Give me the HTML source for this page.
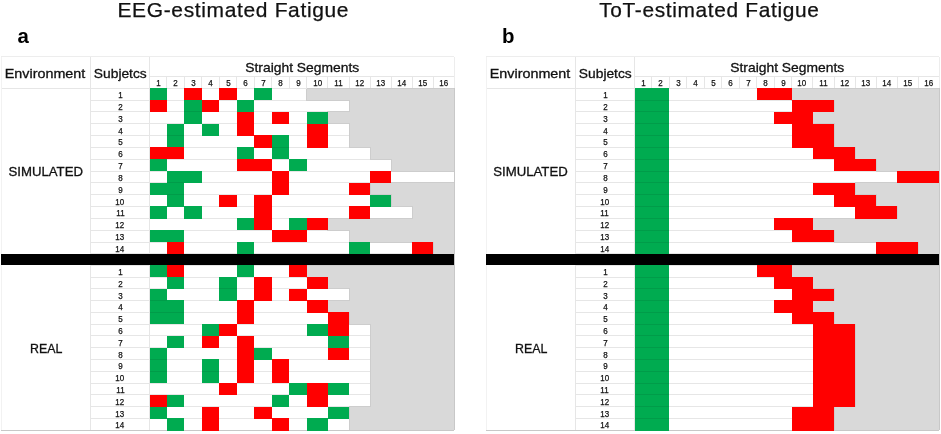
<!DOCTYPE html>
<html lang="en"><head><meta charset="utf-8"><title>EEG-estimated vs ToT-estimated Fatigue</title>
<style>
html,body{margin:0;padding:0;background:#fff;}
body{width:941px;height:434px;position:relative;overflow:hidden;font-family:"Liberation Sans",sans-serif;color:#111;}
.r{position:absolute;}
.t{position:absolute;text-align:center;white-space:nowrap;}
.h{color:#111;-webkit-text-stroke:0.3px #111;}
.n{color:#111;-webkit-text-stroke:0.25px #111;}
.ttl{color:#111;-webkit-text-stroke:0.25px #111;}
.ltr{font-weight:bold;color:#000;}
</style></head><body>
<div class="r" style="left:90.60px;top:87.70px;width:363.66px;height:1.00px;background:#e6e6e6;"></div>
<div class="r" style="left:90.60px;top:99.54px;width:363.66px;height:1.00px;background:#e6e6e6;"></div>
<div class="r" style="left:90.60px;top:111.38px;width:363.66px;height:1.00px;background:#e6e6e6;"></div>
<div class="r" style="left:90.60px;top:123.22px;width:363.66px;height:1.00px;background:#e6e6e6;"></div>
<div class="r" style="left:90.60px;top:135.06px;width:363.66px;height:1.00px;background:#e6e6e6;"></div>
<div class="r" style="left:90.60px;top:146.90px;width:363.66px;height:1.00px;background:#e6e6e6;"></div>
<div class="r" style="left:90.60px;top:158.74px;width:363.66px;height:1.00px;background:#e6e6e6;"></div>
<div class="r" style="left:90.60px;top:170.58px;width:363.66px;height:1.00px;background:#e6e6e6;"></div>
<div class="r" style="left:90.60px;top:182.42px;width:363.66px;height:1.00px;background:#e6e6e6;"></div>
<div class="r" style="left:90.60px;top:194.26px;width:363.66px;height:1.00px;background:#e6e6e6;"></div>
<div class="r" style="left:90.60px;top:206.10px;width:363.66px;height:1.00px;background:#e6e6e6;"></div>
<div class="r" style="left:90.60px;top:217.94px;width:363.66px;height:1.00px;background:#e6e6e6;"></div>
<div class="r" style="left:90.60px;top:229.78px;width:363.66px;height:1.00px;background:#e6e6e6;"></div>
<div class="r" style="left:90.60px;top:241.62px;width:363.66px;height:1.00px;background:#e6e6e6;"></div>
<div class="r" style="left:90.60px;top:253.46px;width:363.66px;height:1.00px;background:#e6e6e6;"></div>
<div class="r" style="left:90.60px;top:264.75px;width:363.66px;height:1.00px;background:#e6e6e6;"></div>
<div class="r" style="left:90.60px;top:276.54px;width:363.66px;height:1.00px;background:#e6e6e6;"></div>
<div class="r" style="left:90.60px;top:288.33px;width:363.66px;height:1.00px;background:#e6e6e6;"></div>
<div class="r" style="left:90.60px;top:300.12px;width:363.66px;height:1.00px;background:#e6e6e6;"></div>
<div class="r" style="left:90.60px;top:311.91px;width:363.66px;height:1.00px;background:#e6e6e6;"></div>
<div class="r" style="left:90.60px;top:323.70px;width:363.66px;height:1.00px;background:#e6e6e6;"></div>
<div class="r" style="left:90.60px;top:335.49px;width:363.66px;height:1.00px;background:#e6e6e6;"></div>
<div class="r" style="left:90.60px;top:347.28px;width:363.66px;height:1.00px;background:#e6e6e6;"></div>
<div class="r" style="left:90.60px;top:359.07px;width:363.66px;height:1.00px;background:#e6e6e6;"></div>
<div class="r" style="left:90.60px;top:370.86px;width:363.66px;height:1.00px;background:#e6e6e6;"></div>
<div class="r" style="left:90.60px;top:382.65px;width:363.66px;height:1.00px;background:#e6e6e6;"></div>
<div class="r" style="left:90.60px;top:394.44px;width:363.66px;height:1.00px;background:#e6e6e6;"></div>
<div class="r" style="left:90.60px;top:406.23px;width:363.66px;height:1.00px;background:#e6e6e6;"></div>
<div class="r" style="left:90.60px;top:418.02px;width:363.66px;height:1.00px;background:#e6e6e6;"></div>
<div class="r" style="left:90.60px;top:429.81px;width:363.66px;height:1.00px;background:#e6e6e6;"></div>
<div class="r" style="left:306.91px;top:88.00px;width:147.35px;height:12.34px;background:#d9d9d9;"></div>
<div class="r" style="left:349.01px;top:99.84px;width:105.25px;height:12.34px;background:#d9d9d9;"></div>
<div class="r" style="left:327.96px;top:111.68px;width:126.30px;height:12.34px;background:#d9d9d9;"></div>
<div class="r" style="left:349.01px;top:123.52px;width:105.25px;height:12.34px;background:#d9d9d9;"></div>
<div class="r" style="left:349.01px;top:135.36px;width:105.25px;height:12.34px;background:#d9d9d9;"></div>
<div class="r" style="left:370.06px;top:147.20px;width:84.20px;height:12.34px;background:#d9d9d9;"></div>
<div class="r" style="left:391.11px;top:159.04px;width:63.15px;height:12.34px;background:#d9d9d9;"></div>
<div class="r" style="left:370.06px;top:182.72px;width:84.20px;height:12.34px;background:#d9d9d9;"></div>
<div class="r" style="left:391.11px;top:194.56px;width:63.15px;height:12.34px;background:#d9d9d9;"></div>
<div class="r" style="left:412.16px;top:206.40px;width:42.10px;height:12.34px;background:#d9d9d9;"></div>
<div class="r" style="left:327.96px;top:218.24px;width:126.30px;height:12.34px;background:#d9d9d9;"></div>
<div class="r" style="left:349.01px;top:230.08px;width:105.25px;height:12.34px;background:#d9d9d9;"></div>
<div class="r" style="left:433.21px;top:241.92px;width:21.05px;height:12.34px;background:#d9d9d9;"></div>
<div class="r" style="left:306.91px;top:265.05px;width:147.35px;height:12.34px;background:#d9d9d9;"></div>
<div class="r" style="left:327.96px;top:276.84px;width:126.30px;height:12.34px;background:#d9d9d9;"></div>
<div class="r" style="left:349.01px;top:288.63px;width:105.25px;height:12.34px;background:#d9d9d9;"></div>
<div class="r" style="left:327.96px;top:300.42px;width:126.30px;height:12.34px;background:#d9d9d9;"></div>
<div class="r" style="left:349.01px;top:312.21px;width:105.25px;height:12.34px;background:#d9d9d9;"></div>
<div class="r" style="left:370.06px;top:324.00px;width:84.20px;height:12.34px;background:#d9d9d9;"></div>
<div class="r" style="left:370.06px;top:335.79px;width:84.20px;height:12.34px;background:#d9d9d9;"></div>
<div class="r" style="left:370.06px;top:347.58px;width:84.20px;height:12.34px;background:#d9d9d9;"></div>
<div class="r" style="left:370.06px;top:359.37px;width:84.20px;height:12.34px;background:#d9d9d9;"></div>
<div class="r" style="left:370.06px;top:371.16px;width:84.20px;height:12.34px;background:#d9d9d9;"></div>
<div class="r" style="left:370.06px;top:382.95px;width:84.20px;height:12.34px;background:#d9d9d9;"></div>
<div class="r" style="left:370.06px;top:394.74px;width:84.20px;height:12.34px;background:#d9d9d9;"></div>
<div class="r" style="left:349.01px;top:406.53px;width:105.25px;height:12.34px;background:#d9d9d9;"></div>
<div class="r" style="left:349.01px;top:418.32px;width:105.25px;height:12.34px;background:#d9d9d9;"></div>
<div class="r" style="left:306.41px;top:88.20px;width:1.00px;height:11.84px;background:#cdcdcd;"></div>
<div class="r" style="left:306.91px;top:87.70px;width:147.35px;height:1.00px;background:#cdcdcd;"></div>
<div class="r" style="left:306.41px;top:99.54px;width:43.10px;height:1.00px;background:#cdcdcd;"></div>
<div class="r" style="left:348.51px;top:100.04px;width:1.00px;height:11.84px;background:#cdcdcd;"></div>
<div class="r" style="left:327.46px;top:111.38px;width:22.05px;height:1.00px;background:#cdcdcd;"></div>
<div class="r" style="left:327.46px;top:111.88px;width:1.00px;height:11.84px;background:#cdcdcd;"></div>
<div class="r" style="left:327.46px;top:123.22px;width:22.05px;height:1.00px;background:#cdcdcd;"></div>
<div class="r" style="left:348.51px;top:123.72px;width:1.00px;height:11.84px;background:#cdcdcd;"></div>
<div class="r" style="left:348.51px;top:135.56px;width:1.00px;height:11.84px;background:#cdcdcd;"></div>
<div class="r" style="left:348.51px;top:146.90px;width:22.05px;height:1.00px;background:#cdcdcd;"></div>
<div class="r" style="left:369.56px;top:147.40px;width:1.00px;height:11.84px;background:#cdcdcd;"></div>
<div class="r" style="left:369.56px;top:158.74px;width:22.05px;height:1.00px;background:#cdcdcd;"></div>
<div class="r" style="left:390.61px;top:159.24px;width:1.00px;height:11.84px;background:#cdcdcd;"></div>
<div class="r" style="left:390.61px;top:170.58px;width:64.15px;height:1.00px;background:#cdcdcd;"></div>
<div class="r" style="left:369.56px;top:182.42px;width:85.20px;height:1.00px;background:#cdcdcd;"></div>
<div class="r" style="left:369.56px;top:182.92px;width:1.00px;height:11.84px;background:#cdcdcd;"></div>
<div class="r" style="left:369.56px;top:194.26px;width:22.05px;height:1.00px;background:#cdcdcd;"></div>
<div class="r" style="left:390.61px;top:194.76px;width:1.00px;height:11.84px;background:#cdcdcd;"></div>
<div class="r" style="left:390.61px;top:206.10px;width:22.05px;height:1.00px;background:#cdcdcd;"></div>
<div class="r" style="left:411.66px;top:206.60px;width:1.00px;height:11.84px;background:#cdcdcd;"></div>
<div class="r" style="left:327.46px;top:217.94px;width:85.20px;height:1.00px;background:#cdcdcd;"></div>
<div class="r" style="left:327.46px;top:218.44px;width:1.00px;height:11.84px;background:#cdcdcd;"></div>
<div class="r" style="left:327.46px;top:229.78px;width:22.05px;height:1.00px;background:#cdcdcd;"></div>
<div class="r" style="left:348.51px;top:230.28px;width:1.00px;height:11.84px;background:#cdcdcd;"></div>
<div class="r" style="left:348.51px;top:241.62px;width:85.20px;height:1.00px;background:#cdcdcd;"></div>
<div class="r" style="left:432.71px;top:242.12px;width:1.00px;height:11.84px;background:#cdcdcd;"></div>
<div class="r" style="left:306.41px;top:265.25px;width:1.00px;height:11.79px;background:#cdcdcd;"></div>
<div class="r" style="left:306.91px;top:264.75px;width:147.35px;height:1.00px;background:#cdcdcd;"></div>
<div class="r" style="left:306.41px;top:276.54px;width:22.05px;height:1.00px;background:#cdcdcd;"></div>
<div class="r" style="left:327.46px;top:277.04px;width:1.00px;height:11.79px;background:#cdcdcd;"></div>
<div class="r" style="left:327.46px;top:288.33px;width:22.05px;height:1.00px;background:#cdcdcd;"></div>
<div class="r" style="left:348.51px;top:288.83px;width:1.00px;height:11.79px;background:#cdcdcd;"></div>
<div class="r" style="left:327.46px;top:300.12px;width:22.05px;height:1.00px;background:#cdcdcd;"></div>
<div class="r" style="left:327.46px;top:300.62px;width:1.00px;height:11.79px;background:#cdcdcd;"></div>
<div class="r" style="left:327.46px;top:311.91px;width:22.05px;height:1.00px;background:#cdcdcd;"></div>
<div class="r" style="left:348.51px;top:312.41px;width:1.00px;height:11.79px;background:#cdcdcd;"></div>
<div class="r" style="left:348.51px;top:323.70px;width:22.05px;height:1.00px;background:#cdcdcd;"></div>
<div class="r" style="left:369.56px;top:324.20px;width:1.00px;height:11.79px;background:#cdcdcd;"></div>
<div class="r" style="left:369.56px;top:335.99px;width:1.00px;height:11.79px;background:#cdcdcd;"></div>
<div class="r" style="left:369.56px;top:347.78px;width:1.00px;height:11.79px;background:#cdcdcd;"></div>
<div class="r" style="left:369.56px;top:359.57px;width:1.00px;height:11.79px;background:#cdcdcd;"></div>
<div class="r" style="left:369.56px;top:371.36px;width:1.00px;height:11.79px;background:#cdcdcd;"></div>
<div class="r" style="left:369.56px;top:383.15px;width:1.00px;height:11.79px;background:#cdcdcd;"></div>
<div class="r" style="left:369.56px;top:394.94px;width:1.00px;height:11.79px;background:#cdcdcd;"></div>
<div class="r" style="left:348.51px;top:406.23px;width:22.05px;height:1.00px;background:#cdcdcd;"></div>
<div class="r" style="left:348.51px;top:406.73px;width:1.00px;height:11.79px;background:#cdcdcd;"></div>
<div class="r" style="left:348.51px;top:418.52px;width:1.00px;height:11.79px;background:#cdcdcd;"></div>
<div class="r" style="left:1.30px;top:56.10px;width:452.96px;height:1.00px;background:#ededed;"></div>
<div class="r" style="left:149.50px;top:75.80px;width:304.76px;height:1.00px;background:#e6e6e6;"></div>
<div class="r" style="left:1.30px;top:87.70px;width:305.61px;height:1.00px;background:#e6e6e6;"></div>
<div class="r" style="left:1.30px;top:429.81px;width:452.96px;height:1.00px;background:#c8c8c8;"></div>
<div class="r" style="left:0.80px;top:56.60px;width:1.00px;height:373.71px;background:#f2f2f2;"></div>
<div class="r" style="left:90.10px;top:56.60px;width:1.00px;height:373.71px;background:#e6e6e6;"></div>
<div class="r" style="left:149.00px;top:56.60px;width:1.00px;height:373.71px;background:#e6e6e6;"></div>
<div class="r" style="left:453.76px;top:56.60px;width:1.00px;height:31.60px;background:#ededed;"></div>
<div class="r" style="left:453.76px;top:88.20px;width:1.00px;height:342.11px;background:#c8c8c8;"></div>
<div class="r" style="left:166.49px;top:76.30px;width:1.00px;height:11.90px;background:#e6e6e6;"></div>
<div class="r" style="left:183.98px;top:76.30px;width:1.00px;height:11.90px;background:#e6e6e6;"></div>
<div class="r" style="left:201.47px;top:76.30px;width:1.00px;height:11.90px;background:#e6e6e6;"></div>
<div class="r" style="left:218.96px;top:76.30px;width:1.00px;height:11.90px;background:#e6e6e6;"></div>
<div class="r" style="left:236.45px;top:76.30px;width:1.00px;height:11.90px;background:#e6e6e6;"></div>
<div class="r" style="left:253.94px;top:76.30px;width:1.00px;height:11.90px;background:#e6e6e6;"></div>
<div class="r" style="left:271.43px;top:76.30px;width:1.00px;height:11.90px;background:#e6e6e6;"></div>
<div class="r" style="left:288.92px;top:76.30px;width:1.00px;height:11.90px;background:#e6e6e6;"></div>
<div class="r" style="left:306.41px;top:76.30px;width:1.00px;height:11.90px;background:#e6e6e6;"></div>
<div class="r" style="left:327.46px;top:76.30px;width:1.00px;height:11.90px;background:#e6e6e6;"></div>
<div class="r" style="left:348.51px;top:76.30px;width:1.00px;height:11.90px;background:#e6e6e6;"></div>
<div class="r" style="left:369.56px;top:76.30px;width:1.00px;height:11.90px;background:#e6e6e6;"></div>
<div class="r" style="left:390.61px;top:76.30px;width:1.00px;height:11.90px;background:#e6e6e6;"></div>
<div class="r" style="left:411.66px;top:76.30px;width:1.00px;height:11.90px;background:#e6e6e6;"></div>
<div class="r" style="left:432.71px;top:76.30px;width:1.00px;height:11.90px;background:#e6e6e6;"></div>
<div class="r" style="left:149.50px;top:88.00px;width:17.49px;height:12.24px;background:#00ab50;"></div>
<div class="r" style="left:184.48px;top:88.00px;width:17.49px;height:12.24px;background:#ff0000;"></div>
<div class="r" style="left:219.46px;top:88.00px;width:17.49px;height:12.24px;background:#ff0000;"></div>
<div class="r" style="left:254.44px;top:88.00px;width:17.49px;height:12.24px;background:#00ab50;"></div>
<div class="r" style="left:149.50px;top:99.84px;width:17.49px;height:12.24px;background:#ff0000;"></div>
<div class="r" style="left:184.48px;top:99.84px;width:17.49px;height:12.24px;background:#00ab50;"></div>
<div class="r" style="left:201.97px;top:99.84px;width:17.49px;height:12.24px;background:#ff0000;"></div>
<div class="r" style="left:236.95px;top:99.84px;width:17.49px;height:12.24px;background:#00ab50;"></div>
<div class="r" style="left:184.48px;top:111.68px;width:17.49px;height:12.24px;background:#00ab50;"></div>
<div class="r" style="left:184.48px;top:111.38px;width:17.49px;height:1.00px;background:#009c49;"></div>
<div class="r" style="left:236.95px;top:111.68px;width:17.49px;height:12.24px;background:#ff0000;"></div>
<div class="r" style="left:271.93px;top:111.68px;width:17.49px;height:12.24px;background:#ff0000;"></div>
<div class="r" style="left:306.91px;top:111.68px;width:21.05px;height:12.24px;background:#00ab50;"></div>
<div class="r" style="left:166.99px;top:123.52px;width:17.49px;height:12.24px;background:#00ab50;"></div>
<div class="r" style="left:201.97px;top:123.52px;width:17.49px;height:12.24px;background:#00ab50;"></div>
<div class="r" style="left:236.95px;top:123.52px;width:17.49px;height:12.24px;background:#ff0000;"></div>
<div class="r" style="left:306.91px;top:123.52px;width:21.05px;height:12.24px;background:#ff0000;"></div>
<div class="r" style="left:166.99px;top:135.36px;width:17.49px;height:12.24px;background:#00ab50;"></div>
<div class="r" style="left:166.99px;top:135.06px;width:17.49px;height:1.00px;background:#009c49;"></div>
<div class="r" style="left:254.44px;top:135.36px;width:17.49px;height:12.24px;background:#ff0000;"></div>
<div class="r" style="left:271.93px;top:135.36px;width:17.49px;height:12.24px;background:#00ab50;"></div>
<div class="r" style="left:306.91px;top:135.36px;width:21.05px;height:12.24px;background:#ff0000;"></div>
<div class="r" style="left:149.50px;top:147.20px;width:17.49px;height:12.24px;background:#ff0000;"></div>
<div class="r" style="left:166.99px;top:147.20px;width:17.49px;height:12.24px;background:#ff0000;"></div>
<div class="r" style="left:236.95px;top:147.20px;width:17.49px;height:12.24px;background:#00ab50;"></div>
<div class="r" style="left:271.93px;top:147.20px;width:17.49px;height:12.24px;background:#00ab50;"></div>
<div class="r" style="left:271.93px;top:146.90px;width:17.49px;height:1.00px;background:#009c49;"></div>
<div class="r" style="left:149.50px;top:159.04px;width:17.49px;height:12.24px;background:#00ab50;"></div>
<div class="r" style="left:236.95px;top:159.04px;width:17.49px;height:12.24px;background:#ff0000;"></div>
<div class="r" style="left:254.44px;top:159.04px;width:17.49px;height:12.24px;background:#ff0000;"></div>
<div class="r" style="left:289.42px;top:159.04px;width:17.49px;height:12.24px;background:#00ab50;"></div>
<div class="r" style="left:166.99px;top:170.88px;width:17.49px;height:12.24px;background:#00ab50;"></div>
<div class="r" style="left:184.48px;top:170.88px;width:17.49px;height:12.24px;background:#00ab50;"></div>
<div class="r" style="left:271.93px;top:170.88px;width:17.49px;height:12.24px;background:#ff0000;"></div>
<div class="r" style="left:370.06px;top:170.88px;width:21.05px;height:12.24px;background:#ff0000;"></div>
<div class="r" style="left:149.50px;top:182.72px;width:17.49px;height:12.24px;background:#00ab50;"></div>
<div class="r" style="left:166.99px;top:182.72px;width:17.49px;height:12.24px;background:#00ab50;"></div>
<div class="r" style="left:166.99px;top:182.42px;width:17.49px;height:1.00px;background:#009c49;"></div>
<div class="r" style="left:271.93px;top:182.72px;width:17.49px;height:12.24px;background:#ff0000;"></div>
<div class="r" style="left:349.01px;top:182.72px;width:21.05px;height:12.24px;background:#ff0000;"></div>
<div class="r" style="left:166.99px;top:194.56px;width:17.49px;height:12.24px;background:#00ab50;"></div>
<div class="r" style="left:166.99px;top:194.26px;width:17.49px;height:1.00px;background:#009c49;"></div>
<div class="r" style="left:219.46px;top:194.56px;width:17.49px;height:12.24px;background:#ff0000;"></div>
<div class="r" style="left:254.44px;top:194.56px;width:17.49px;height:12.24px;background:#ff0000;"></div>
<div class="r" style="left:370.06px;top:194.56px;width:21.05px;height:12.24px;background:#00ab50;"></div>
<div class="r" style="left:149.50px;top:206.40px;width:17.49px;height:12.24px;background:#00ab50;"></div>
<div class="r" style="left:184.48px;top:206.40px;width:17.49px;height:12.24px;background:#00ab50;"></div>
<div class="r" style="left:254.44px;top:206.40px;width:17.49px;height:12.24px;background:#ff0000;"></div>
<div class="r" style="left:349.01px;top:206.40px;width:21.05px;height:12.24px;background:#ff0000;"></div>
<div class="r" style="left:236.95px;top:218.24px;width:17.49px;height:12.24px;background:#00ab50;"></div>
<div class="r" style="left:254.44px;top:218.24px;width:17.49px;height:12.24px;background:#ff0000;"></div>
<div class="r" style="left:289.42px;top:218.24px;width:17.49px;height:12.24px;background:#00ab50;"></div>
<div class="r" style="left:306.91px;top:218.24px;width:21.05px;height:12.24px;background:#ff0000;"></div>
<div class="r" style="left:149.50px;top:230.08px;width:17.49px;height:12.24px;background:#00ab50;"></div>
<div class="r" style="left:166.99px;top:230.08px;width:17.49px;height:12.24px;background:#00ab50;"></div>
<div class="r" style="left:271.93px;top:230.08px;width:17.49px;height:12.24px;background:#ff0000;"></div>
<div class="r" style="left:289.42px;top:230.08px;width:17.49px;height:12.24px;background:#ff0000;"></div>
<div class="r" style="left:166.99px;top:241.92px;width:17.49px;height:12.24px;background:#ff0000;"></div>
<div class="r" style="left:236.95px;top:241.92px;width:17.49px;height:12.24px;background:#00ab50;"></div>
<div class="r" style="left:349.01px;top:241.92px;width:21.05px;height:12.24px;background:#00ab50;"></div>
<div class="r" style="left:412.16px;top:241.92px;width:21.05px;height:12.24px;background:#ff0000;"></div>
<div class="r" style="left:149.50px;top:265.05px;width:17.49px;height:12.24px;background:#00ab50;"></div>
<div class="r" style="left:166.99px;top:265.05px;width:17.49px;height:12.24px;background:#ff0000;"></div>
<div class="r" style="left:236.95px;top:265.05px;width:17.49px;height:12.24px;background:#00ab50;"></div>
<div class="r" style="left:289.42px;top:265.05px;width:17.49px;height:12.24px;background:#ff0000;"></div>
<div class="r" style="left:166.99px;top:276.84px;width:17.49px;height:12.24px;background:#00ab50;"></div>
<div class="r" style="left:219.46px;top:276.84px;width:17.49px;height:12.24px;background:#00ab50;"></div>
<div class="r" style="left:254.44px;top:276.84px;width:17.49px;height:12.24px;background:#ff0000;"></div>
<div class="r" style="left:306.91px;top:276.84px;width:21.05px;height:12.24px;background:#ff0000;"></div>
<div class="r" style="left:149.50px;top:288.63px;width:17.49px;height:12.24px;background:#00ab50;"></div>
<div class="r" style="left:219.46px;top:288.63px;width:17.49px;height:12.24px;background:#00ab50;"></div>
<div class="r" style="left:219.46px;top:288.33px;width:17.49px;height:1.00px;background:#009c49;"></div>
<div class="r" style="left:254.44px;top:288.63px;width:17.49px;height:12.24px;background:#ff0000;"></div>
<div class="r" style="left:289.42px;top:288.63px;width:17.49px;height:12.24px;background:#ff0000;"></div>
<div class="r" style="left:149.50px;top:300.42px;width:17.49px;height:12.24px;background:#00ab50;"></div>
<div class="r" style="left:149.50px;top:300.12px;width:17.49px;height:1.00px;background:#009c49;"></div>
<div class="r" style="left:166.99px;top:300.42px;width:17.49px;height:12.24px;background:#00ab50;"></div>
<div class="r" style="left:236.95px;top:300.42px;width:17.49px;height:12.24px;background:#ff0000;"></div>
<div class="r" style="left:306.91px;top:300.42px;width:21.05px;height:12.24px;background:#ff0000;"></div>
<div class="r" style="left:149.50px;top:312.21px;width:17.49px;height:12.24px;background:#00ab50;"></div>
<div class="r" style="left:149.50px;top:311.91px;width:17.49px;height:1.00px;background:#009c49;"></div>
<div class="r" style="left:166.99px;top:312.21px;width:17.49px;height:12.24px;background:#00ab50;"></div>
<div class="r" style="left:166.99px;top:311.91px;width:17.49px;height:1.00px;background:#009c49;"></div>
<div class="r" style="left:236.95px;top:312.21px;width:17.49px;height:12.24px;background:#ff0000;"></div>
<div class="r" style="left:327.96px;top:312.21px;width:21.05px;height:12.24px;background:#ff0000;"></div>
<div class="r" style="left:201.97px;top:324.00px;width:17.49px;height:12.24px;background:#00ab50;"></div>
<div class="r" style="left:219.46px;top:324.00px;width:17.49px;height:12.24px;background:#ff0000;"></div>
<div class="r" style="left:306.91px;top:324.00px;width:21.05px;height:12.24px;background:#00ab50;"></div>
<div class="r" style="left:327.96px;top:324.00px;width:21.05px;height:12.24px;background:#ff0000;"></div>
<div class="r" style="left:166.99px;top:335.79px;width:17.49px;height:12.24px;background:#00ab50;"></div>
<div class="r" style="left:201.97px;top:335.79px;width:17.49px;height:12.24px;background:#ff0000;"></div>
<div class="r" style="left:236.95px;top:335.79px;width:17.49px;height:12.24px;background:#ff0000;"></div>
<div class="r" style="left:327.96px;top:335.79px;width:21.05px;height:12.24px;background:#00ab50;"></div>
<div class="r" style="left:149.50px;top:347.58px;width:17.49px;height:12.24px;background:#00ab50;"></div>
<div class="r" style="left:236.95px;top:347.58px;width:17.49px;height:12.24px;background:#ff0000;"></div>
<div class="r" style="left:254.44px;top:347.58px;width:17.49px;height:12.24px;background:#00ab50;"></div>
<div class="r" style="left:327.96px;top:347.58px;width:21.05px;height:12.24px;background:#ff0000;"></div>
<div class="r" style="left:149.50px;top:359.37px;width:17.49px;height:12.24px;background:#00ab50;"></div>
<div class="r" style="left:149.50px;top:359.07px;width:17.49px;height:1.00px;background:#009c49;"></div>
<div class="r" style="left:201.97px;top:359.37px;width:17.49px;height:12.24px;background:#00ab50;"></div>
<div class="r" style="left:236.95px;top:359.37px;width:17.49px;height:12.24px;background:#ff0000;"></div>
<div class="r" style="left:271.93px;top:359.37px;width:17.49px;height:12.24px;background:#ff0000;"></div>
<div class="r" style="left:149.50px;top:371.16px;width:17.49px;height:12.24px;background:#00ab50;"></div>
<div class="r" style="left:149.50px;top:370.86px;width:17.49px;height:1.00px;background:#009c49;"></div>
<div class="r" style="left:201.97px;top:371.16px;width:17.49px;height:12.24px;background:#00ab50;"></div>
<div class="r" style="left:201.97px;top:370.86px;width:17.49px;height:1.00px;background:#009c49;"></div>
<div class="r" style="left:236.95px;top:371.16px;width:17.49px;height:12.24px;background:#ff0000;"></div>
<div class="r" style="left:271.93px;top:371.16px;width:17.49px;height:12.24px;background:#ff0000;"></div>
<div class="r" style="left:219.46px;top:382.95px;width:17.49px;height:12.24px;background:#ff0000;"></div>
<div class="r" style="left:289.42px;top:382.95px;width:17.49px;height:12.24px;background:#00ab50;"></div>
<div class="r" style="left:306.91px;top:382.95px;width:21.05px;height:12.24px;background:#ff0000;"></div>
<div class="r" style="left:327.96px;top:382.95px;width:21.05px;height:12.24px;background:#00ab50;"></div>
<div class="r" style="left:149.50px;top:394.74px;width:17.49px;height:12.24px;background:#ff0000;"></div>
<div class="r" style="left:166.99px;top:394.74px;width:17.49px;height:12.24px;background:#00ab50;"></div>
<div class="r" style="left:271.93px;top:394.74px;width:17.49px;height:12.24px;background:#00ab50;"></div>
<div class="r" style="left:306.91px;top:394.74px;width:21.05px;height:12.24px;background:#ff0000;"></div>
<div class="r" style="left:149.50px;top:406.53px;width:17.49px;height:12.24px;background:#00ab50;"></div>
<div class="r" style="left:201.97px;top:406.53px;width:17.49px;height:12.24px;background:#ff0000;"></div>
<div class="r" style="left:254.44px;top:406.53px;width:17.49px;height:12.24px;background:#ff0000;"></div>
<div class="r" style="left:327.96px;top:406.53px;width:21.05px;height:12.24px;background:#00ab50;"></div>
<div class="r" style="left:166.99px;top:418.32px;width:17.49px;height:12.24px;background:#00ab50;"></div>
<div class="r" style="left:201.97px;top:418.32px;width:17.49px;height:12.24px;background:#ff0000;"></div>
<div class="r" style="left:271.93px;top:418.32px;width:17.49px;height:12.24px;background:#ff0000;"></div>
<div class="r" style="left:306.91px;top:418.32px;width:21.05px;height:12.24px;background:#00ab50;"></div>
<div class="r" style="left:1.30px;top:253.50px;width:453.06px;height:11.90px;background:#000;"></div>
<div class="t h" style="left:-154.80px;top:66.01px;width:400px;height:15.84px;line-height:15.84px;font-size:13.2px;"><span style="display:inline-block;transform:scaleX(1.088);transform-origin:50% 50%;">Environment</span></div>
<div class="t h" style="left:-80.00px;top:66.01px;width:400px;height:15.84px;line-height:15.84px;font-size:13.2px;"><span style="display:inline-block;transform:scaleX(1.045);transform-origin:50% 50%;">Subjetcs</span></div>
<div class="t h" style="left:102.00px;top:59.51px;width:400px;height:15.84px;line-height:15.84px;font-size:13.2px;"><span style="display:inline-block;transform:scaleX(1.05);transform-origin:50% 50%;">Straight Segments</span></div>
<div class="t n" style="left:-41.75px;top:78.06px;width:400px;height:10.32px;line-height:10.32px;font-size:8.6px;"><span style="display:inline-block;transform:scaleX(0.93);transform-origin:50% 50%;">1</span></div>
<div class="t n" style="left:-24.26px;top:78.06px;width:400px;height:10.32px;line-height:10.32px;font-size:8.6px;"><span style="display:inline-block;transform:scaleX(0.93);transform-origin:50% 50%;">2</span></div>
<div class="t n" style="left:-6.78px;top:78.06px;width:400px;height:10.32px;line-height:10.32px;font-size:8.6px;"><span style="display:inline-block;transform:scaleX(0.93);transform-origin:50% 50%;">3</span></div>
<div class="t n" style="left:10.71px;top:78.06px;width:400px;height:10.32px;line-height:10.32px;font-size:8.6px;"><span style="display:inline-block;transform:scaleX(0.93);transform-origin:50% 50%;">4</span></div>
<div class="t n" style="left:28.20px;top:78.06px;width:400px;height:10.32px;line-height:10.32px;font-size:8.6px;"><span style="display:inline-block;transform:scaleX(0.93);transform-origin:50% 50%;">5</span></div>
<div class="t n" style="left:45.69px;top:78.06px;width:400px;height:10.32px;line-height:10.32px;font-size:8.6px;"><span style="display:inline-block;transform:scaleX(0.93);transform-origin:50% 50%;">6</span></div>
<div class="t n" style="left:63.19px;top:78.06px;width:400px;height:10.32px;line-height:10.32px;font-size:8.6px;"><span style="display:inline-block;transform:scaleX(0.93);transform-origin:50% 50%;">7</span></div>
<div class="t n" style="left:80.67px;top:78.06px;width:400px;height:10.32px;line-height:10.32px;font-size:8.6px;"><span style="display:inline-block;transform:scaleX(0.93);transform-origin:50% 50%;">8</span></div>
<div class="t n" style="left:98.16px;top:78.06px;width:400px;height:10.32px;line-height:10.32px;font-size:8.6px;"><span style="display:inline-block;transform:scaleX(0.93);transform-origin:50% 50%;">9</span></div>
<div class="t n" style="left:117.43px;top:78.06px;width:400px;height:10.32px;line-height:10.32px;font-size:8.6px;"><span style="display:inline-block;transform:scaleX(0.93);transform-origin:50% 50%;">10</span></div>
<div class="t n" style="left:138.49px;top:78.06px;width:400px;height:10.32px;line-height:10.32px;font-size:8.6px;"><span style="display:inline-block;transform:scaleX(0.93);transform-origin:50% 50%;">11</span></div>
<div class="t n" style="left:159.53px;top:78.06px;width:400px;height:10.32px;line-height:10.32px;font-size:8.6px;"><span style="display:inline-block;transform:scaleX(0.93);transform-origin:50% 50%;">12</span></div>
<div class="t n" style="left:180.58px;top:78.06px;width:400px;height:10.32px;line-height:10.32px;font-size:8.6px;"><span style="display:inline-block;transform:scaleX(0.93);transform-origin:50% 50%;">13</span></div>
<div class="t n" style="left:201.63px;top:78.06px;width:400px;height:10.32px;line-height:10.32px;font-size:8.6px;"><span style="display:inline-block;transform:scaleX(0.93);transform-origin:50% 50%;">14</span></div>
<div class="t n" style="left:222.68px;top:78.06px;width:400px;height:10.32px;line-height:10.32px;font-size:8.6px;"><span style="display:inline-block;transform:scaleX(0.93);transform-origin:50% 50%;">15</span></div>
<div class="t n" style="left:243.74px;top:78.06px;width:400px;height:10.32px;line-height:10.32px;font-size:8.6px;"><span style="display:inline-block;transform:scaleX(0.93);transform-origin:50% 50%;">16</span></div>
<div class="t n" style="left:-79.85px;top:90.06px;width:400px;height:10.32px;line-height:10.32px;font-size:8.6px;"><span style="display:inline-block;transform:scaleX(0.93);transform-origin:50% 50%;">1</span></div>
<div class="t n" style="left:-79.85px;top:101.90px;width:400px;height:10.32px;line-height:10.32px;font-size:8.6px;"><span style="display:inline-block;transform:scaleX(0.93);transform-origin:50% 50%;">2</span></div>
<div class="t n" style="left:-79.85px;top:113.74px;width:400px;height:10.32px;line-height:10.32px;font-size:8.6px;"><span style="display:inline-block;transform:scaleX(0.93);transform-origin:50% 50%;">3</span></div>
<div class="t n" style="left:-79.85px;top:125.58px;width:400px;height:10.32px;line-height:10.32px;font-size:8.6px;"><span style="display:inline-block;transform:scaleX(0.93);transform-origin:50% 50%;">4</span></div>
<div class="t n" style="left:-79.85px;top:137.42px;width:400px;height:10.32px;line-height:10.32px;font-size:8.6px;"><span style="display:inline-block;transform:scaleX(0.93);transform-origin:50% 50%;">5</span></div>
<div class="t n" style="left:-79.85px;top:149.26px;width:400px;height:10.32px;line-height:10.32px;font-size:8.6px;"><span style="display:inline-block;transform:scaleX(0.93);transform-origin:50% 50%;">6</span></div>
<div class="t n" style="left:-79.85px;top:161.10px;width:400px;height:10.32px;line-height:10.32px;font-size:8.6px;"><span style="display:inline-block;transform:scaleX(0.93);transform-origin:50% 50%;">7</span></div>
<div class="t n" style="left:-79.85px;top:172.94px;width:400px;height:10.32px;line-height:10.32px;font-size:8.6px;"><span style="display:inline-block;transform:scaleX(0.93);transform-origin:50% 50%;">8</span></div>
<div class="t n" style="left:-79.85px;top:184.78px;width:400px;height:10.32px;line-height:10.32px;font-size:8.6px;"><span style="display:inline-block;transform:scaleX(0.93);transform-origin:50% 50%;">9</span></div>
<div class="t n" style="left:-79.85px;top:196.62px;width:400px;height:10.32px;line-height:10.32px;font-size:8.6px;"><span style="display:inline-block;transform:scaleX(0.93);transform-origin:50% 50%;">10</span></div>
<div class="t n" style="left:-79.85px;top:208.46px;width:400px;height:10.32px;line-height:10.32px;font-size:8.6px;"><span style="display:inline-block;transform:scaleX(0.93);transform-origin:50% 50%;">11</span></div>
<div class="t n" style="left:-79.85px;top:220.30px;width:400px;height:10.32px;line-height:10.32px;font-size:8.6px;"><span style="display:inline-block;transform:scaleX(0.93);transform-origin:50% 50%;">12</span></div>
<div class="t n" style="left:-79.85px;top:232.14px;width:400px;height:10.32px;line-height:10.32px;font-size:8.6px;"><span style="display:inline-block;transform:scaleX(0.93);transform-origin:50% 50%;">13</span></div>
<div class="t n" style="left:-79.85px;top:243.98px;width:400px;height:10.32px;line-height:10.32px;font-size:8.6px;"><span style="display:inline-block;transform:scaleX(0.93);transform-origin:50% 50%;">14</span></div>
<div class="t n" style="left:-79.85px;top:267.11px;width:400px;height:10.32px;line-height:10.32px;font-size:8.6px;"><span style="display:inline-block;transform:scaleX(0.93);transform-origin:50% 50%;">1</span></div>
<div class="t n" style="left:-79.85px;top:278.90px;width:400px;height:10.32px;line-height:10.32px;font-size:8.6px;"><span style="display:inline-block;transform:scaleX(0.93);transform-origin:50% 50%;">2</span></div>
<div class="t n" style="left:-79.85px;top:290.69px;width:400px;height:10.32px;line-height:10.32px;font-size:8.6px;"><span style="display:inline-block;transform:scaleX(0.93);transform-origin:50% 50%;">3</span></div>
<div class="t n" style="left:-79.85px;top:302.48px;width:400px;height:10.32px;line-height:10.32px;font-size:8.6px;"><span style="display:inline-block;transform:scaleX(0.93);transform-origin:50% 50%;">4</span></div>
<div class="t n" style="left:-79.85px;top:314.27px;width:400px;height:10.32px;line-height:10.32px;font-size:8.6px;"><span style="display:inline-block;transform:scaleX(0.93);transform-origin:50% 50%;">5</span></div>
<div class="t n" style="left:-79.85px;top:326.06px;width:400px;height:10.32px;line-height:10.32px;font-size:8.6px;"><span style="display:inline-block;transform:scaleX(0.93);transform-origin:50% 50%;">6</span></div>
<div class="t n" style="left:-79.85px;top:337.85px;width:400px;height:10.32px;line-height:10.32px;font-size:8.6px;"><span style="display:inline-block;transform:scaleX(0.93);transform-origin:50% 50%;">7</span></div>
<div class="t n" style="left:-79.85px;top:349.64px;width:400px;height:10.32px;line-height:10.32px;font-size:8.6px;"><span style="display:inline-block;transform:scaleX(0.93);transform-origin:50% 50%;">8</span></div>
<div class="t n" style="left:-79.85px;top:361.43px;width:400px;height:10.32px;line-height:10.32px;font-size:8.6px;"><span style="display:inline-block;transform:scaleX(0.93);transform-origin:50% 50%;">9</span></div>
<div class="t n" style="left:-79.85px;top:373.22px;width:400px;height:10.32px;line-height:10.32px;font-size:8.6px;"><span style="display:inline-block;transform:scaleX(0.93);transform-origin:50% 50%;">10</span></div>
<div class="t n" style="left:-79.85px;top:385.01px;width:400px;height:10.32px;line-height:10.32px;font-size:8.6px;"><span style="display:inline-block;transform:scaleX(0.93);transform-origin:50% 50%;">11</span></div>
<div class="t n" style="left:-79.85px;top:396.80px;width:400px;height:10.32px;line-height:10.32px;font-size:8.6px;"><span style="display:inline-block;transform:scaleX(0.93);transform-origin:50% 50%;">12</span></div>
<div class="t n" style="left:-79.85px;top:408.59px;width:400px;height:10.32px;line-height:10.32px;font-size:8.6px;"><span style="display:inline-block;transform:scaleX(0.93);transform-origin:50% 50%;">13</span></div>
<div class="t n" style="left:-79.85px;top:420.38px;width:400px;height:10.32px;line-height:10.32px;font-size:8.6px;"><span style="display:inline-block;transform:scaleX(0.93);transform-origin:50% 50%;">14</span></div>
<div class="t h" style="left:-154.30px;top:164.01px;width:400px;height:15.84px;line-height:15.84px;font-size:13.2px;"><span style="display:inline-block;transform:scaleX(1.0);transform-origin:50% 50%;">SIMULATED</span></div>
<div class="t h" style="left:-154.00px;top:341.21px;width:400px;height:15.84px;line-height:15.84px;font-size:13.2px;"><span style="display:inline-block;transform:scaleX(0.94);transform-origin:50% 50%;">REAL</span></div>
<div class="t ttl" style="left:33.10px;top:-0.54px;width:400px;height:23.76px;line-height:23.76px;font-size:19.8px;letter-spacing:0.62px;"><span style="display:inline-block;transform:scaleX(1.06);transform-origin:50% 50%;">EEG-estimated Fatigue</span></div>
<div class="t ltr" style="left:17.40px;top:24.39px;height:24.48px;line-height:24.48px;font-size:20.4px;text-align:left;"><span style="display:inline-block;transform:scaleX(1.0);transform-origin:0 50%;">a</span></div>
<div class="r" style="left:575.60px;top:87.70px;width:363.66px;height:1.00px;background:#e6e6e6;"></div>
<div class="r" style="left:575.60px;top:99.54px;width:363.66px;height:1.00px;background:#e6e6e6;"></div>
<div class="r" style="left:575.60px;top:111.38px;width:363.66px;height:1.00px;background:#e6e6e6;"></div>
<div class="r" style="left:575.60px;top:123.22px;width:363.66px;height:1.00px;background:#e6e6e6;"></div>
<div class="r" style="left:575.60px;top:135.06px;width:363.66px;height:1.00px;background:#e6e6e6;"></div>
<div class="r" style="left:575.60px;top:146.90px;width:363.66px;height:1.00px;background:#e6e6e6;"></div>
<div class="r" style="left:575.60px;top:158.74px;width:363.66px;height:1.00px;background:#e6e6e6;"></div>
<div class="r" style="left:575.60px;top:170.58px;width:363.66px;height:1.00px;background:#e6e6e6;"></div>
<div class="r" style="left:575.60px;top:182.42px;width:363.66px;height:1.00px;background:#e6e6e6;"></div>
<div class="r" style="left:575.60px;top:194.26px;width:363.66px;height:1.00px;background:#e6e6e6;"></div>
<div class="r" style="left:575.60px;top:206.10px;width:363.66px;height:1.00px;background:#e6e6e6;"></div>
<div class="r" style="left:575.60px;top:217.94px;width:363.66px;height:1.00px;background:#e6e6e6;"></div>
<div class="r" style="left:575.60px;top:229.78px;width:363.66px;height:1.00px;background:#e6e6e6;"></div>
<div class="r" style="left:575.60px;top:241.62px;width:363.66px;height:1.00px;background:#e6e6e6;"></div>
<div class="r" style="left:575.60px;top:253.46px;width:363.66px;height:1.00px;background:#e6e6e6;"></div>
<div class="r" style="left:575.60px;top:264.75px;width:363.66px;height:1.00px;background:#e6e6e6;"></div>
<div class="r" style="left:575.60px;top:276.54px;width:363.66px;height:1.00px;background:#e6e6e6;"></div>
<div class="r" style="left:575.60px;top:288.33px;width:363.66px;height:1.00px;background:#e6e6e6;"></div>
<div class="r" style="left:575.60px;top:300.12px;width:363.66px;height:1.00px;background:#e6e6e6;"></div>
<div class="r" style="left:575.60px;top:311.91px;width:363.66px;height:1.00px;background:#e6e6e6;"></div>
<div class="r" style="left:575.60px;top:323.70px;width:363.66px;height:1.00px;background:#e6e6e6;"></div>
<div class="r" style="left:575.60px;top:335.49px;width:363.66px;height:1.00px;background:#e6e6e6;"></div>
<div class="r" style="left:575.60px;top:347.28px;width:363.66px;height:1.00px;background:#e6e6e6;"></div>
<div class="r" style="left:575.60px;top:359.07px;width:363.66px;height:1.00px;background:#e6e6e6;"></div>
<div class="r" style="left:575.60px;top:370.86px;width:363.66px;height:1.00px;background:#e6e6e6;"></div>
<div class="r" style="left:575.60px;top:382.65px;width:363.66px;height:1.00px;background:#e6e6e6;"></div>
<div class="r" style="left:575.60px;top:394.44px;width:363.66px;height:1.00px;background:#e6e6e6;"></div>
<div class="r" style="left:575.60px;top:406.23px;width:363.66px;height:1.00px;background:#e6e6e6;"></div>
<div class="r" style="left:575.60px;top:418.02px;width:363.66px;height:1.00px;background:#e6e6e6;"></div>
<div class="r" style="left:575.60px;top:429.81px;width:363.66px;height:1.00px;background:#e6e6e6;"></div>
<div class="r" style="left:791.91px;top:88.00px;width:147.35px;height:12.34px;background:#d9d9d9;"></div>
<div class="r" style="left:834.01px;top:99.84px;width:105.25px;height:12.34px;background:#d9d9d9;"></div>
<div class="r" style="left:812.96px;top:111.68px;width:126.30px;height:12.34px;background:#d9d9d9;"></div>
<div class="r" style="left:834.01px;top:123.52px;width:105.25px;height:12.34px;background:#d9d9d9;"></div>
<div class="r" style="left:834.01px;top:135.36px;width:105.25px;height:12.34px;background:#d9d9d9;"></div>
<div class="r" style="left:855.06px;top:147.20px;width:84.20px;height:12.34px;background:#d9d9d9;"></div>
<div class="r" style="left:876.11px;top:159.04px;width:63.15px;height:12.34px;background:#d9d9d9;"></div>
<div class="r" style="left:855.06px;top:182.72px;width:84.20px;height:12.34px;background:#d9d9d9;"></div>
<div class="r" style="left:876.11px;top:194.56px;width:63.15px;height:12.34px;background:#d9d9d9;"></div>
<div class="r" style="left:897.16px;top:206.40px;width:42.10px;height:12.34px;background:#d9d9d9;"></div>
<div class="r" style="left:812.96px;top:218.24px;width:126.30px;height:12.34px;background:#d9d9d9;"></div>
<div class="r" style="left:834.01px;top:230.08px;width:105.25px;height:12.34px;background:#d9d9d9;"></div>
<div class="r" style="left:918.21px;top:241.92px;width:21.05px;height:12.34px;background:#d9d9d9;"></div>
<div class="r" style="left:791.91px;top:265.05px;width:147.35px;height:12.34px;background:#d9d9d9;"></div>
<div class="r" style="left:812.96px;top:276.84px;width:126.30px;height:12.34px;background:#d9d9d9;"></div>
<div class="r" style="left:834.01px;top:288.63px;width:105.25px;height:12.34px;background:#d9d9d9;"></div>
<div class="r" style="left:812.96px;top:300.42px;width:126.30px;height:12.34px;background:#d9d9d9;"></div>
<div class="r" style="left:834.01px;top:312.21px;width:105.25px;height:12.34px;background:#d9d9d9;"></div>
<div class="r" style="left:855.06px;top:324.00px;width:84.20px;height:12.34px;background:#d9d9d9;"></div>
<div class="r" style="left:855.06px;top:335.79px;width:84.20px;height:12.34px;background:#d9d9d9;"></div>
<div class="r" style="left:855.06px;top:347.58px;width:84.20px;height:12.34px;background:#d9d9d9;"></div>
<div class="r" style="left:855.06px;top:359.37px;width:84.20px;height:12.34px;background:#d9d9d9;"></div>
<div class="r" style="left:855.06px;top:371.16px;width:84.20px;height:12.34px;background:#d9d9d9;"></div>
<div class="r" style="left:855.06px;top:382.95px;width:84.20px;height:12.34px;background:#d9d9d9;"></div>
<div class="r" style="left:855.06px;top:394.74px;width:84.20px;height:12.34px;background:#d9d9d9;"></div>
<div class="r" style="left:834.01px;top:406.53px;width:105.25px;height:12.34px;background:#d9d9d9;"></div>
<div class="r" style="left:834.01px;top:418.32px;width:105.25px;height:12.34px;background:#d9d9d9;"></div>
<div class="r" style="left:791.41px;top:88.20px;width:1.00px;height:11.84px;background:#cdcdcd;"></div>
<div class="r" style="left:791.91px;top:87.70px;width:147.35px;height:1.00px;background:#cdcdcd;"></div>
<div class="r" style="left:791.41px;top:99.54px;width:43.10px;height:1.00px;background:#cdcdcd;"></div>
<div class="r" style="left:833.51px;top:100.04px;width:1.00px;height:11.84px;background:#cdcdcd;"></div>
<div class="r" style="left:812.46px;top:111.38px;width:22.05px;height:1.00px;background:#cdcdcd;"></div>
<div class="r" style="left:812.46px;top:111.88px;width:1.00px;height:11.84px;background:#cdcdcd;"></div>
<div class="r" style="left:812.46px;top:123.22px;width:22.05px;height:1.00px;background:#cdcdcd;"></div>
<div class="r" style="left:833.51px;top:123.72px;width:1.00px;height:11.84px;background:#cdcdcd;"></div>
<div class="r" style="left:833.51px;top:135.56px;width:1.00px;height:11.84px;background:#cdcdcd;"></div>
<div class="r" style="left:833.51px;top:146.90px;width:22.05px;height:1.00px;background:#cdcdcd;"></div>
<div class="r" style="left:854.56px;top:147.40px;width:1.00px;height:11.84px;background:#cdcdcd;"></div>
<div class="r" style="left:854.56px;top:158.74px;width:22.05px;height:1.00px;background:#cdcdcd;"></div>
<div class="r" style="left:875.61px;top:159.24px;width:1.00px;height:11.84px;background:#cdcdcd;"></div>
<div class="r" style="left:875.61px;top:170.58px;width:64.15px;height:1.00px;background:#cdcdcd;"></div>
<div class="r" style="left:854.56px;top:182.42px;width:85.20px;height:1.00px;background:#cdcdcd;"></div>
<div class="r" style="left:854.56px;top:182.92px;width:1.00px;height:11.84px;background:#cdcdcd;"></div>
<div class="r" style="left:854.56px;top:194.26px;width:22.05px;height:1.00px;background:#cdcdcd;"></div>
<div class="r" style="left:875.61px;top:194.76px;width:1.00px;height:11.84px;background:#cdcdcd;"></div>
<div class="r" style="left:875.61px;top:206.10px;width:22.05px;height:1.00px;background:#cdcdcd;"></div>
<div class="r" style="left:896.66px;top:206.60px;width:1.00px;height:11.84px;background:#cdcdcd;"></div>
<div class="r" style="left:812.46px;top:217.94px;width:85.20px;height:1.00px;background:#cdcdcd;"></div>
<div class="r" style="left:812.46px;top:218.44px;width:1.00px;height:11.84px;background:#cdcdcd;"></div>
<div class="r" style="left:812.46px;top:229.78px;width:22.05px;height:1.00px;background:#cdcdcd;"></div>
<div class="r" style="left:833.51px;top:230.28px;width:1.00px;height:11.84px;background:#cdcdcd;"></div>
<div class="r" style="left:833.51px;top:241.62px;width:85.20px;height:1.00px;background:#cdcdcd;"></div>
<div class="r" style="left:917.71px;top:242.12px;width:1.00px;height:11.84px;background:#cdcdcd;"></div>
<div class="r" style="left:791.41px;top:265.25px;width:1.00px;height:11.79px;background:#cdcdcd;"></div>
<div class="r" style="left:791.91px;top:264.75px;width:147.35px;height:1.00px;background:#cdcdcd;"></div>
<div class="r" style="left:791.41px;top:276.54px;width:22.05px;height:1.00px;background:#cdcdcd;"></div>
<div class="r" style="left:812.46px;top:277.04px;width:1.00px;height:11.79px;background:#cdcdcd;"></div>
<div class="r" style="left:812.46px;top:288.33px;width:22.05px;height:1.00px;background:#cdcdcd;"></div>
<div class="r" style="left:833.51px;top:288.83px;width:1.00px;height:11.79px;background:#cdcdcd;"></div>
<div class="r" style="left:812.46px;top:300.12px;width:22.05px;height:1.00px;background:#cdcdcd;"></div>
<div class="r" style="left:812.46px;top:300.62px;width:1.00px;height:11.79px;background:#cdcdcd;"></div>
<div class="r" style="left:812.46px;top:311.91px;width:22.05px;height:1.00px;background:#cdcdcd;"></div>
<div class="r" style="left:833.51px;top:312.41px;width:1.00px;height:11.79px;background:#cdcdcd;"></div>
<div class="r" style="left:833.51px;top:323.70px;width:22.05px;height:1.00px;background:#cdcdcd;"></div>
<div class="r" style="left:854.56px;top:324.20px;width:1.00px;height:11.79px;background:#cdcdcd;"></div>
<div class="r" style="left:854.56px;top:335.99px;width:1.00px;height:11.79px;background:#cdcdcd;"></div>
<div class="r" style="left:854.56px;top:347.78px;width:1.00px;height:11.79px;background:#cdcdcd;"></div>
<div class="r" style="left:854.56px;top:359.57px;width:1.00px;height:11.79px;background:#cdcdcd;"></div>
<div class="r" style="left:854.56px;top:371.36px;width:1.00px;height:11.79px;background:#cdcdcd;"></div>
<div class="r" style="left:854.56px;top:383.15px;width:1.00px;height:11.79px;background:#cdcdcd;"></div>
<div class="r" style="left:854.56px;top:394.94px;width:1.00px;height:11.79px;background:#cdcdcd;"></div>
<div class="r" style="left:833.51px;top:406.23px;width:22.05px;height:1.00px;background:#cdcdcd;"></div>
<div class="r" style="left:833.51px;top:406.73px;width:1.00px;height:11.79px;background:#cdcdcd;"></div>
<div class="r" style="left:833.51px;top:418.52px;width:1.00px;height:11.79px;background:#cdcdcd;"></div>
<div class="r" style="left:486.30px;top:56.10px;width:452.96px;height:1.00px;background:#ededed;"></div>
<div class="r" style="left:634.50px;top:75.80px;width:304.76px;height:1.00px;background:#e6e6e6;"></div>
<div class="r" style="left:486.30px;top:87.70px;width:305.61px;height:1.00px;background:#e6e6e6;"></div>
<div class="r" style="left:486.30px;top:429.81px;width:452.96px;height:1.00px;background:#c8c8c8;"></div>
<div class="r" style="left:485.80px;top:56.60px;width:1.00px;height:373.71px;background:#f2f2f2;"></div>
<div class="r" style="left:575.10px;top:56.60px;width:1.00px;height:373.71px;background:#e6e6e6;"></div>
<div class="r" style="left:634.00px;top:56.60px;width:1.00px;height:373.71px;background:#e6e6e6;"></div>
<div class="r" style="left:938.76px;top:56.60px;width:1.00px;height:31.60px;background:#ededed;"></div>
<div class="r" style="left:938.76px;top:88.20px;width:1.00px;height:342.11px;background:#c8c8c8;"></div>
<div class="r" style="left:651.49px;top:76.30px;width:1.00px;height:11.90px;background:#e6e6e6;"></div>
<div class="r" style="left:668.98px;top:76.30px;width:1.00px;height:11.90px;background:#e6e6e6;"></div>
<div class="r" style="left:686.47px;top:76.30px;width:1.00px;height:11.90px;background:#e6e6e6;"></div>
<div class="r" style="left:703.96px;top:76.30px;width:1.00px;height:11.90px;background:#e6e6e6;"></div>
<div class="r" style="left:721.45px;top:76.30px;width:1.00px;height:11.90px;background:#e6e6e6;"></div>
<div class="r" style="left:738.94px;top:76.30px;width:1.00px;height:11.90px;background:#e6e6e6;"></div>
<div class="r" style="left:756.43px;top:76.30px;width:1.00px;height:11.90px;background:#e6e6e6;"></div>
<div class="r" style="left:773.92px;top:76.30px;width:1.00px;height:11.90px;background:#e6e6e6;"></div>
<div class="r" style="left:791.41px;top:76.30px;width:1.00px;height:11.90px;background:#e6e6e6;"></div>
<div class="r" style="left:812.46px;top:76.30px;width:1.00px;height:11.90px;background:#e6e6e6;"></div>
<div class="r" style="left:833.51px;top:76.30px;width:1.00px;height:11.90px;background:#e6e6e6;"></div>
<div class="r" style="left:854.56px;top:76.30px;width:1.00px;height:11.90px;background:#e6e6e6;"></div>
<div class="r" style="left:875.61px;top:76.30px;width:1.00px;height:11.90px;background:#e6e6e6;"></div>
<div class="r" style="left:896.66px;top:76.30px;width:1.00px;height:11.90px;background:#e6e6e6;"></div>
<div class="r" style="left:917.71px;top:76.30px;width:1.00px;height:11.90px;background:#e6e6e6;"></div>
<div class="r" style="left:634.50px;top:88.00px;width:17.49px;height:12.24px;background:#00ab50;"></div>
<div class="r" style="left:651.99px;top:88.00px;width:17.49px;height:12.24px;background:#00ab50;"></div>
<div class="r" style="left:756.93px;top:88.00px;width:17.49px;height:12.24px;background:#ff0000;"></div>
<div class="r" style="left:774.42px;top:88.00px;width:17.49px;height:12.24px;background:#ff0000;"></div>
<div class="r" style="left:634.50px;top:99.84px;width:17.49px;height:12.24px;background:#00ab50;"></div>
<div class="r" style="left:634.50px;top:99.54px;width:17.49px;height:1.00px;background:#009c49;"></div>
<div class="r" style="left:651.99px;top:99.84px;width:17.49px;height:12.24px;background:#00ab50;"></div>
<div class="r" style="left:651.99px;top:99.54px;width:17.49px;height:1.00px;background:#009c49;"></div>
<div class="r" style="left:791.91px;top:99.84px;width:21.05px;height:12.24px;background:#ff0000;"></div>
<div class="r" style="left:812.96px;top:99.84px;width:21.05px;height:12.24px;background:#ff0000;"></div>
<div class="r" style="left:634.50px;top:111.68px;width:17.49px;height:12.24px;background:#00ab50;"></div>
<div class="r" style="left:634.50px;top:111.38px;width:17.49px;height:1.00px;background:#009c49;"></div>
<div class="r" style="left:651.99px;top:111.68px;width:17.49px;height:12.24px;background:#00ab50;"></div>
<div class="r" style="left:651.99px;top:111.38px;width:17.49px;height:1.00px;background:#009c49;"></div>
<div class="r" style="left:774.42px;top:111.68px;width:17.49px;height:12.24px;background:#ff0000;"></div>
<div class="r" style="left:791.91px;top:111.68px;width:21.05px;height:12.24px;background:#ff0000;"></div>
<div class="r" style="left:634.50px;top:123.52px;width:17.49px;height:12.24px;background:#00ab50;"></div>
<div class="r" style="left:634.50px;top:123.22px;width:17.49px;height:1.00px;background:#009c49;"></div>
<div class="r" style="left:651.99px;top:123.52px;width:17.49px;height:12.24px;background:#00ab50;"></div>
<div class="r" style="left:651.99px;top:123.22px;width:17.49px;height:1.00px;background:#009c49;"></div>
<div class="r" style="left:791.91px;top:123.52px;width:21.05px;height:12.24px;background:#ff0000;"></div>
<div class="r" style="left:812.96px;top:123.52px;width:21.05px;height:12.24px;background:#ff0000;"></div>
<div class="r" style="left:634.50px;top:135.36px;width:17.49px;height:12.24px;background:#00ab50;"></div>
<div class="r" style="left:634.50px;top:135.06px;width:17.49px;height:1.00px;background:#009c49;"></div>
<div class="r" style="left:651.99px;top:135.36px;width:17.49px;height:12.24px;background:#00ab50;"></div>
<div class="r" style="left:651.99px;top:135.06px;width:17.49px;height:1.00px;background:#009c49;"></div>
<div class="r" style="left:791.91px;top:135.36px;width:21.05px;height:12.24px;background:#ff0000;"></div>
<div class="r" style="left:812.96px;top:135.36px;width:21.05px;height:12.24px;background:#ff0000;"></div>
<div class="r" style="left:634.50px;top:147.20px;width:17.49px;height:12.24px;background:#00ab50;"></div>
<div class="r" style="left:634.50px;top:146.90px;width:17.49px;height:1.00px;background:#009c49;"></div>
<div class="r" style="left:651.99px;top:147.20px;width:17.49px;height:12.24px;background:#00ab50;"></div>
<div class="r" style="left:651.99px;top:146.90px;width:17.49px;height:1.00px;background:#009c49;"></div>
<div class="r" style="left:812.96px;top:147.20px;width:21.05px;height:12.24px;background:#ff0000;"></div>
<div class="r" style="left:834.01px;top:147.20px;width:21.05px;height:12.24px;background:#ff0000;"></div>
<div class="r" style="left:634.50px;top:159.04px;width:17.49px;height:12.24px;background:#00ab50;"></div>
<div class="r" style="left:634.50px;top:158.74px;width:17.49px;height:1.00px;background:#009c49;"></div>
<div class="r" style="left:651.99px;top:159.04px;width:17.49px;height:12.24px;background:#00ab50;"></div>
<div class="r" style="left:651.99px;top:158.74px;width:17.49px;height:1.00px;background:#009c49;"></div>
<div class="r" style="left:834.01px;top:159.04px;width:21.05px;height:12.24px;background:#ff0000;"></div>
<div class="r" style="left:855.06px;top:159.04px;width:21.05px;height:12.24px;background:#ff0000;"></div>
<div class="r" style="left:634.50px;top:170.88px;width:17.49px;height:12.24px;background:#00ab50;"></div>
<div class="r" style="left:634.50px;top:170.58px;width:17.49px;height:1.00px;background:#009c49;"></div>
<div class="r" style="left:651.99px;top:170.88px;width:17.49px;height:12.24px;background:#00ab50;"></div>
<div class="r" style="left:651.99px;top:170.58px;width:17.49px;height:1.00px;background:#009c49;"></div>
<div class="r" style="left:897.16px;top:170.88px;width:21.05px;height:12.24px;background:#ff0000;"></div>
<div class="r" style="left:918.21px;top:170.88px;width:21.05px;height:12.24px;background:#ff0000;"></div>
<div class="r" style="left:634.50px;top:182.72px;width:17.49px;height:12.24px;background:#00ab50;"></div>
<div class="r" style="left:634.50px;top:182.42px;width:17.49px;height:1.00px;background:#009c49;"></div>
<div class="r" style="left:651.99px;top:182.72px;width:17.49px;height:12.24px;background:#00ab50;"></div>
<div class="r" style="left:651.99px;top:182.42px;width:17.49px;height:1.00px;background:#009c49;"></div>
<div class="r" style="left:812.96px;top:182.72px;width:21.05px;height:12.24px;background:#ff0000;"></div>
<div class="r" style="left:834.01px;top:182.72px;width:21.05px;height:12.24px;background:#ff0000;"></div>
<div class="r" style="left:634.50px;top:194.56px;width:17.49px;height:12.24px;background:#00ab50;"></div>
<div class="r" style="left:634.50px;top:194.26px;width:17.49px;height:1.00px;background:#009c49;"></div>
<div class="r" style="left:651.99px;top:194.56px;width:17.49px;height:12.24px;background:#00ab50;"></div>
<div class="r" style="left:651.99px;top:194.26px;width:17.49px;height:1.00px;background:#009c49;"></div>
<div class="r" style="left:834.01px;top:194.56px;width:21.05px;height:12.24px;background:#ff0000;"></div>
<div class="r" style="left:855.06px;top:194.56px;width:21.05px;height:12.24px;background:#ff0000;"></div>
<div class="r" style="left:634.50px;top:206.40px;width:17.49px;height:12.24px;background:#00ab50;"></div>
<div class="r" style="left:634.50px;top:206.10px;width:17.49px;height:1.00px;background:#009c49;"></div>
<div class="r" style="left:651.99px;top:206.40px;width:17.49px;height:12.24px;background:#00ab50;"></div>
<div class="r" style="left:651.99px;top:206.10px;width:17.49px;height:1.00px;background:#009c49;"></div>
<div class="r" style="left:855.06px;top:206.40px;width:21.05px;height:12.24px;background:#ff0000;"></div>
<div class="r" style="left:876.11px;top:206.40px;width:21.05px;height:12.24px;background:#ff0000;"></div>
<div class="r" style="left:634.50px;top:218.24px;width:17.49px;height:12.24px;background:#00ab50;"></div>
<div class="r" style="left:634.50px;top:217.94px;width:17.49px;height:1.00px;background:#009c49;"></div>
<div class="r" style="left:651.99px;top:218.24px;width:17.49px;height:12.24px;background:#00ab50;"></div>
<div class="r" style="left:651.99px;top:217.94px;width:17.49px;height:1.00px;background:#009c49;"></div>
<div class="r" style="left:774.42px;top:218.24px;width:17.49px;height:12.24px;background:#ff0000;"></div>
<div class="r" style="left:791.91px;top:218.24px;width:21.05px;height:12.24px;background:#ff0000;"></div>
<div class="r" style="left:634.50px;top:230.08px;width:17.49px;height:12.24px;background:#00ab50;"></div>
<div class="r" style="left:634.50px;top:229.78px;width:17.49px;height:1.00px;background:#009c49;"></div>
<div class="r" style="left:651.99px;top:230.08px;width:17.49px;height:12.24px;background:#00ab50;"></div>
<div class="r" style="left:651.99px;top:229.78px;width:17.49px;height:1.00px;background:#009c49;"></div>
<div class="r" style="left:791.91px;top:230.08px;width:21.05px;height:12.24px;background:#ff0000;"></div>
<div class="r" style="left:812.96px;top:230.08px;width:21.05px;height:12.24px;background:#ff0000;"></div>
<div class="r" style="left:634.50px;top:241.92px;width:17.49px;height:12.24px;background:#00ab50;"></div>
<div class="r" style="left:634.50px;top:241.62px;width:17.49px;height:1.00px;background:#009c49;"></div>
<div class="r" style="left:651.99px;top:241.92px;width:17.49px;height:12.24px;background:#00ab50;"></div>
<div class="r" style="left:651.99px;top:241.62px;width:17.49px;height:1.00px;background:#009c49;"></div>
<div class="r" style="left:876.11px;top:241.92px;width:21.05px;height:12.24px;background:#ff0000;"></div>
<div class="r" style="left:897.16px;top:241.92px;width:21.05px;height:12.24px;background:#ff0000;"></div>
<div class="r" style="left:634.50px;top:265.05px;width:17.49px;height:12.24px;background:#00ab50;"></div>
<div class="r" style="left:651.99px;top:265.05px;width:17.49px;height:12.24px;background:#00ab50;"></div>
<div class="r" style="left:756.93px;top:265.05px;width:17.49px;height:12.24px;background:#ff0000;"></div>
<div class="r" style="left:774.42px;top:265.05px;width:17.49px;height:12.24px;background:#ff0000;"></div>
<div class="r" style="left:634.50px;top:276.84px;width:17.49px;height:12.24px;background:#00ab50;"></div>
<div class="r" style="left:634.50px;top:276.54px;width:17.49px;height:1.00px;background:#009c49;"></div>
<div class="r" style="left:651.99px;top:276.84px;width:17.49px;height:12.24px;background:#00ab50;"></div>
<div class="r" style="left:651.99px;top:276.54px;width:17.49px;height:1.00px;background:#009c49;"></div>
<div class="r" style="left:774.42px;top:276.84px;width:17.49px;height:12.24px;background:#ff0000;"></div>
<div class="r" style="left:791.91px;top:276.84px;width:21.05px;height:12.24px;background:#ff0000;"></div>
<div class="r" style="left:634.50px;top:288.63px;width:17.49px;height:12.24px;background:#00ab50;"></div>
<div class="r" style="left:634.50px;top:288.33px;width:17.49px;height:1.00px;background:#009c49;"></div>
<div class="r" style="left:651.99px;top:288.63px;width:17.49px;height:12.24px;background:#00ab50;"></div>
<div class="r" style="left:651.99px;top:288.33px;width:17.49px;height:1.00px;background:#009c49;"></div>
<div class="r" style="left:791.91px;top:288.63px;width:21.05px;height:12.24px;background:#ff0000;"></div>
<div class="r" style="left:812.96px;top:288.63px;width:21.05px;height:12.24px;background:#ff0000;"></div>
<div class="r" style="left:634.50px;top:300.42px;width:17.49px;height:12.24px;background:#00ab50;"></div>
<div class="r" style="left:634.50px;top:300.12px;width:17.49px;height:1.00px;background:#009c49;"></div>
<div class="r" style="left:651.99px;top:300.42px;width:17.49px;height:12.24px;background:#00ab50;"></div>
<div class="r" style="left:651.99px;top:300.12px;width:17.49px;height:1.00px;background:#009c49;"></div>
<div class="r" style="left:774.42px;top:300.42px;width:17.49px;height:12.24px;background:#ff0000;"></div>
<div class="r" style="left:791.91px;top:300.42px;width:21.05px;height:12.24px;background:#ff0000;"></div>
<div class="r" style="left:634.50px;top:312.21px;width:17.49px;height:12.24px;background:#00ab50;"></div>
<div class="r" style="left:634.50px;top:311.91px;width:17.49px;height:1.00px;background:#009c49;"></div>
<div class="r" style="left:651.99px;top:312.21px;width:17.49px;height:12.24px;background:#00ab50;"></div>
<div class="r" style="left:651.99px;top:311.91px;width:17.49px;height:1.00px;background:#009c49;"></div>
<div class="r" style="left:791.91px;top:312.21px;width:21.05px;height:12.24px;background:#ff0000;"></div>
<div class="r" style="left:812.96px;top:312.21px;width:21.05px;height:12.24px;background:#ff0000;"></div>
<div class="r" style="left:634.50px;top:324.00px;width:17.49px;height:12.24px;background:#00ab50;"></div>
<div class="r" style="left:634.50px;top:323.70px;width:17.49px;height:1.00px;background:#009c49;"></div>
<div class="r" style="left:651.99px;top:324.00px;width:17.49px;height:12.24px;background:#00ab50;"></div>
<div class="r" style="left:651.99px;top:323.70px;width:17.49px;height:1.00px;background:#009c49;"></div>
<div class="r" style="left:812.96px;top:324.00px;width:21.05px;height:12.24px;background:#ff0000;"></div>
<div class="r" style="left:834.01px;top:324.00px;width:21.05px;height:12.24px;background:#ff0000;"></div>
<div class="r" style="left:634.50px;top:335.79px;width:17.49px;height:12.24px;background:#00ab50;"></div>
<div class="r" style="left:634.50px;top:335.49px;width:17.49px;height:1.00px;background:#009c49;"></div>
<div class="r" style="left:651.99px;top:335.79px;width:17.49px;height:12.24px;background:#00ab50;"></div>
<div class="r" style="left:651.99px;top:335.49px;width:17.49px;height:1.00px;background:#009c49;"></div>
<div class="r" style="left:812.96px;top:335.79px;width:21.05px;height:12.24px;background:#ff0000;"></div>
<div class="r" style="left:834.01px;top:335.79px;width:21.05px;height:12.24px;background:#ff0000;"></div>
<div class="r" style="left:634.50px;top:347.58px;width:17.49px;height:12.24px;background:#00ab50;"></div>
<div class="r" style="left:634.50px;top:347.28px;width:17.49px;height:1.00px;background:#009c49;"></div>
<div class="r" style="left:651.99px;top:347.58px;width:17.49px;height:12.24px;background:#00ab50;"></div>
<div class="r" style="left:651.99px;top:347.28px;width:17.49px;height:1.00px;background:#009c49;"></div>
<div class="r" style="left:812.96px;top:347.58px;width:21.05px;height:12.24px;background:#ff0000;"></div>
<div class="r" style="left:834.01px;top:347.58px;width:21.05px;height:12.24px;background:#ff0000;"></div>
<div class="r" style="left:634.50px;top:359.37px;width:17.49px;height:12.24px;background:#00ab50;"></div>
<div class="r" style="left:634.50px;top:359.07px;width:17.49px;height:1.00px;background:#009c49;"></div>
<div class="r" style="left:651.99px;top:359.37px;width:17.49px;height:12.24px;background:#00ab50;"></div>
<div class="r" style="left:651.99px;top:359.07px;width:17.49px;height:1.00px;background:#009c49;"></div>
<div class="r" style="left:812.96px;top:359.37px;width:21.05px;height:12.24px;background:#ff0000;"></div>
<div class="r" style="left:834.01px;top:359.37px;width:21.05px;height:12.24px;background:#ff0000;"></div>
<div class="r" style="left:634.50px;top:371.16px;width:17.49px;height:12.24px;background:#00ab50;"></div>
<div class="r" style="left:634.50px;top:370.86px;width:17.49px;height:1.00px;background:#009c49;"></div>
<div class="r" style="left:651.99px;top:371.16px;width:17.49px;height:12.24px;background:#00ab50;"></div>
<div class="r" style="left:651.99px;top:370.86px;width:17.49px;height:1.00px;background:#009c49;"></div>
<div class="r" style="left:812.96px;top:371.16px;width:21.05px;height:12.24px;background:#ff0000;"></div>
<div class="r" style="left:834.01px;top:371.16px;width:21.05px;height:12.24px;background:#ff0000;"></div>
<div class="r" style="left:634.50px;top:382.95px;width:17.49px;height:12.24px;background:#00ab50;"></div>
<div class="r" style="left:634.50px;top:382.65px;width:17.49px;height:1.00px;background:#009c49;"></div>
<div class="r" style="left:651.99px;top:382.95px;width:17.49px;height:12.24px;background:#00ab50;"></div>
<div class="r" style="left:651.99px;top:382.65px;width:17.49px;height:1.00px;background:#009c49;"></div>
<div class="r" style="left:812.96px;top:382.95px;width:21.05px;height:12.24px;background:#ff0000;"></div>
<div class="r" style="left:834.01px;top:382.95px;width:21.05px;height:12.24px;background:#ff0000;"></div>
<div class="r" style="left:634.50px;top:394.74px;width:17.49px;height:12.24px;background:#00ab50;"></div>
<div class="r" style="left:634.50px;top:394.44px;width:17.49px;height:1.00px;background:#009c49;"></div>
<div class="r" style="left:651.99px;top:394.74px;width:17.49px;height:12.24px;background:#00ab50;"></div>
<div class="r" style="left:651.99px;top:394.44px;width:17.49px;height:1.00px;background:#009c49;"></div>
<div class="r" style="left:812.96px;top:394.74px;width:21.05px;height:12.24px;background:#ff0000;"></div>
<div class="r" style="left:834.01px;top:394.74px;width:21.05px;height:12.24px;background:#ff0000;"></div>
<div class="r" style="left:634.50px;top:406.53px;width:17.49px;height:12.24px;background:#00ab50;"></div>
<div class="r" style="left:634.50px;top:406.23px;width:17.49px;height:1.00px;background:#009c49;"></div>
<div class="r" style="left:651.99px;top:406.53px;width:17.49px;height:12.24px;background:#00ab50;"></div>
<div class="r" style="left:651.99px;top:406.23px;width:17.49px;height:1.00px;background:#009c49;"></div>
<div class="r" style="left:791.91px;top:406.53px;width:21.05px;height:12.24px;background:#ff0000;"></div>
<div class="r" style="left:812.96px;top:406.53px;width:21.05px;height:12.24px;background:#ff0000;"></div>
<div class="r" style="left:634.50px;top:418.32px;width:17.49px;height:12.24px;background:#00ab50;"></div>
<div class="r" style="left:634.50px;top:418.02px;width:17.49px;height:1.00px;background:#009c49;"></div>
<div class="r" style="left:651.99px;top:418.32px;width:17.49px;height:12.24px;background:#00ab50;"></div>
<div class="r" style="left:651.99px;top:418.02px;width:17.49px;height:1.00px;background:#009c49;"></div>
<div class="r" style="left:791.91px;top:418.32px;width:21.05px;height:12.24px;background:#ff0000;"></div>
<div class="r" style="left:812.96px;top:418.32px;width:21.05px;height:12.24px;background:#ff0000;"></div>
<div class="r" style="left:486.30px;top:253.50px;width:453.06px;height:11.90px;background:#000;"></div>
<div class="t h" style="left:330.00px;top:66.01px;width:400px;height:15.84px;line-height:15.84px;font-size:13.2px;"><span style="display:inline-block;transform:scaleX(1.088);transform-origin:50% 50%;">Environment</span></div>
<div class="t h" style="left:404.80px;top:66.01px;width:400px;height:15.84px;line-height:15.84px;font-size:13.2px;"><span style="display:inline-block;transform:scaleX(1.045);transform-origin:50% 50%;">Subjetcs</span></div>
<div class="t h" style="left:586.80px;top:59.51px;width:400px;height:15.84px;line-height:15.84px;font-size:13.2px;"><span style="display:inline-block;transform:scaleX(1.05);transform-origin:50% 50%;">Straight Segments</span></div>
<div class="t n" style="left:443.05px;top:78.06px;width:400px;height:10.32px;line-height:10.32px;font-size:8.6px;"><span style="display:inline-block;transform:scaleX(0.93);transform-origin:50% 50%;">1</span></div>
<div class="t n" style="left:460.54px;top:78.06px;width:400px;height:10.32px;line-height:10.32px;font-size:8.6px;"><span style="display:inline-block;transform:scaleX(0.93);transform-origin:50% 50%;">2</span></div>
<div class="t n" style="left:478.02px;top:78.06px;width:400px;height:10.32px;line-height:10.32px;font-size:8.6px;"><span style="display:inline-block;transform:scaleX(0.93);transform-origin:50% 50%;">3</span></div>
<div class="t n" style="left:495.51px;top:78.06px;width:400px;height:10.32px;line-height:10.32px;font-size:8.6px;"><span style="display:inline-block;transform:scaleX(0.93);transform-origin:50% 50%;">4</span></div>
<div class="t n" style="left:513.00px;top:78.06px;width:400px;height:10.32px;line-height:10.32px;font-size:8.6px;"><span style="display:inline-block;transform:scaleX(0.93);transform-origin:50% 50%;">5</span></div>
<div class="t n" style="left:530.50px;top:78.06px;width:400px;height:10.32px;line-height:10.32px;font-size:8.6px;"><span style="display:inline-block;transform:scaleX(0.93);transform-origin:50% 50%;">6</span></div>
<div class="t n" style="left:547.99px;top:78.06px;width:400px;height:10.32px;line-height:10.32px;font-size:8.6px;"><span style="display:inline-block;transform:scaleX(0.93);transform-origin:50% 50%;">7</span></div>
<div class="t n" style="left:565.47px;top:78.06px;width:400px;height:10.32px;line-height:10.32px;font-size:8.6px;"><span style="display:inline-block;transform:scaleX(0.93);transform-origin:50% 50%;">8</span></div>
<div class="t n" style="left:582.96px;top:78.06px;width:400px;height:10.32px;line-height:10.32px;font-size:8.6px;"><span style="display:inline-block;transform:scaleX(0.93);transform-origin:50% 50%;">9</span></div>
<div class="t n" style="left:602.23px;top:78.06px;width:400px;height:10.32px;line-height:10.32px;font-size:8.6px;"><span style="display:inline-block;transform:scaleX(0.93);transform-origin:50% 50%;">10</span></div>
<div class="t n" style="left:623.29px;top:78.06px;width:400px;height:10.32px;line-height:10.32px;font-size:8.6px;"><span style="display:inline-block;transform:scaleX(0.93);transform-origin:50% 50%;">11</span></div>
<div class="t n" style="left:644.34px;top:78.06px;width:400px;height:10.32px;line-height:10.32px;font-size:8.6px;"><span style="display:inline-block;transform:scaleX(0.93);transform-origin:50% 50%;">12</span></div>
<div class="t n" style="left:665.38px;top:78.06px;width:400px;height:10.32px;line-height:10.32px;font-size:8.6px;"><span style="display:inline-block;transform:scaleX(0.93);transform-origin:50% 50%;">13</span></div>
<div class="t n" style="left:686.43px;top:78.06px;width:400px;height:10.32px;line-height:10.32px;font-size:8.6px;"><span style="display:inline-block;transform:scaleX(0.93);transform-origin:50% 50%;">14</span></div>
<div class="t n" style="left:707.48px;top:78.06px;width:400px;height:10.32px;line-height:10.32px;font-size:8.6px;"><span style="display:inline-block;transform:scaleX(0.93);transform-origin:50% 50%;">15</span></div>
<div class="t n" style="left:728.54px;top:78.06px;width:400px;height:10.32px;line-height:10.32px;font-size:8.6px;"><span style="display:inline-block;transform:scaleX(0.93);transform-origin:50% 50%;">16</span></div>
<div class="t n" style="left:404.95px;top:90.06px;width:400px;height:10.32px;line-height:10.32px;font-size:8.6px;"><span style="display:inline-block;transform:scaleX(0.93);transform-origin:50% 50%;">1</span></div>
<div class="t n" style="left:404.95px;top:101.90px;width:400px;height:10.32px;line-height:10.32px;font-size:8.6px;"><span style="display:inline-block;transform:scaleX(0.93);transform-origin:50% 50%;">2</span></div>
<div class="t n" style="left:404.95px;top:113.74px;width:400px;height:10.32px;line-height:10.32px;font-size:8.6px;"><span style="display:inline-block;transform:scaleX(0.93);transform-origin:50% 50%;">3</span></div>
<div class="t n" style="left:404.95px;top:125.58px;width:400px;height:10.32px;line-height:10.32px;font-size:8.6px;"><span style="display:inline-block;transform:scaleX(0.93);transform-origin:50% 50%;">4</span></div>
<div class="t n" style="left:404.95px;top:137.42px;width:400px;height:10.32px;line-height:10.32px;font-size:8.6px;"><span style="display:inline-block;transform:scaleX(0.93);transform-origin:50% 50%;">5</span></div>
<div class="t n" style="left:404.95px;top:149.26px;width:400px;height:10.32px;line-height:10.32px;font-size:8.6px;"><span style="display:inline-block;transform:scaleX(0.93);transform-origin:50% 50%;">6</span></div>
<div class="t n" style="left:404.95px;top:161.10px;width:400px;height:10.32px;line-height:10.32px;font-size:8.6px;"><span style="display:inline-block;transform:scaleX(0.93);transform-origin:50% 50%;">7</span></div>
<div class="t n" style="left:404.95px;top:172.94px;width:400px;height:10.32px;line-height:10.32px;font-size:8.6px;"><span style="display:inline-block;transform:scaleX(0.93);transform-origin:50% 50%;">8</span></div>
<div class="t n" style="left:404.95px;top:184.78px;width:400px;height:10.32px;line-height:10.32px;font-size:8.6px;"><span style="display:inline-block;transform:scaleX(0.93);transform-origin:50% 50%;">9</span></div>
<div class="t n" style="left:404.95px;top:196.62px;width:400px;height:10.32px;line-height:10.32px;font-size:8.6px;"><span style="display:inline-block;transform:scaleX(0.93);transform-origin:50% 50%;">10</span></div>
<div class="t n" style="left:404.95px;top:208.46px;width:400px;height:10.32px;line-height:10.32px;font-size:8.6px;"><span style="display:inline-block;transform:scaleX(0.93);transform-origin:50% 50%;">11</span></div>
<div class="t n" style="left:404.95px;top:220.30px;width:400px;height:10.32px;line-height:10.32px;font-size:8.6px;"><span style="display:inline-block;transform:scaleX(0.93);transform-origin:50% 50%;">12</span></div>
<div class="t n" style="left:404.95px;top:232.14px;width:400px;height:10.32px;line-height:10.32px;font-size:8.6px;"><span style="display:inline-block;transform:scaleX(0.93);transform-origin:50% 50%;">13</span></div>
<div class="t n" style="left:404.95px;top:243.98px;width:400px;height:10.32px;line-height:10.32px;font-size:8.6px;"><span style="display:inline-block;transform:scaleX(0.93);transform-origin:50% 50%;">14</span></div>
<div class="t n" style="left:404.95px;top:267.11px;width:400px;height:10.32px;line-height:10.32px;font-size:8.6px;"><span style="display:inline-block;transform:scaleX(0.93);transform-origin:50% 50%;">1</span></div>
<div class="t n" style="left:404.95px;top:278.90px;width:400px;height:10.32px;line-height:10.32px;font-size:8.6px;"><span style="display:inline-block;transform:scaleX(0.93);transform-origin:50% 50%;">2</span></div>
<div class="t n" style="left:404.95px;top:290.69px;width:400px;height:10.32px;line-height:10.32px;font-size:8.6px;"><span style="display:inline-block;transform:scaleX(0.93);transform-origin:50% 50%;">3</span></div>
<div class="t n" style="left:404.95px;top:302.48px;width:400px;height:10.32px;line-height:10.32px;font-size:8.6px;"><span style="display:inline-block;transform:scaleX(0.93);transform-origin:50% 50%;">4</span></div>
<div class="t n" style="left:404.95px;top:314.27px;width:400px;height:10.32px;line-height:10.32px;font-size:8.6px;"><span style="display:inline-block;transform:scaleX(0.93);transform-origin:50% 50%;">5</span></div>
<div class="t n" style="left:404.95px;top:326.06px;width:400px;height:10.32px;line-height:10.32px;font-size:8.6px;"><span style="display:inline-block;transform:scaleX(0.93);transform-origin:50% 50%;">6</span></div>
<div class="t n" style="left:404.95px;top:337.85px;width:400px;height:10.32px;line-height:10.32px;font-size:8.6px;"><span style="display:inline-block;transform:scaleX(0.93);transform-origin:50% 50%;">7</span></div>
<div class="t n" style="left:404.95px;top:349.64px;width:400px;height:10.32px;line-height:10.32px;font-size:8.6px;"><span style="display:inline-block;transform:scaleX(0.93);transform-origin:50% 50%;">8</span></div>
<div class="t n" style="left:404.95px;top:361.43px;width:400px;height:10.32px;line-height:10.32px;font-size:8.6px;"><span style="display:inline-block;transform:scaleX(0.93);transform-origin:50% 50%;">9</span></div>
<div class="t n" style="left:404.95px;top:373.22px;width:400px;height:10.32px;line-height:10.32px;font-size:8.6px;"><span style="display:inline-block;transform:scaleX(0.93);transform-origin:50% 50%;">10</span></div>
<div class="t n" style="left:404.95px;top:385.01px;width:400px;height:10.32px;line-height:10.32px;font-size:8.6px;"><span style="display:inline-block;transform:scaleX(0.93);transform-origin:50% 50%;">11</span></div>
<div class="t n" style="left:404.95px;top:396.80px;width:400px;height:10.32px;line-height:10.32px;font-size:8.6px;"><span style="display:inline-block;transform:scaleX(0.93);transform-origin:50% 50%;">12</span></div>
<div class="t n" style="left:404.95px;top:408.59px;width:400px;height:10.32px;line-height:10.32px;font-size:8.6px;"><span style="display:inline-block;transform:scaleX(0.93);transform-origin:50% 50%;">13</span></div>
<div class="t n" style="left:404.95px;top:420.38px;width:400px;height:10.32px;line-height:10.32px;font-size:8.6px;"><span style="display:inline-block;transform:scaleX(0.93);transform-origin:50% 50%;">14</span></div>
<div class="t h" style="left:330.50px;top:164.01px;width:400px;height:15.84px;line-height:15.84px;font-size:13.2px;"><span style="display:inline-block;transform:scaleX(1.0);transform-origin:50% 50%;">SIMULATED</span></div>
<div class="t h" style="left:330.80px;top:341.21px;width:400px;height:15.84px;line-height:15.84px;font-size:13.2px;"><span style="display:inline-block;transform:scaleX(0.94);transform-origin:50% 50%;">REAL</span></div>
<div class="t ttl" style="left:509.85px;top:-0.54px;width:400px;height:23.76px;line-height:23.76px;font-size:19.8px;letter-spacing:0.62px;"><span style="display:inline-block;transform:scaleX(1.055);transform-origin:50% 50%;">ToT-estimated Fatigue</span></div>
<div class="t ltr" style="left:501.90px;top:24.39px;height:24.48px;line-height:24.48px;font-size:20.4px;text-align:left;"><span style="display:inline-block;transform:scaleX(1.0);transform-origin:0 50%;">b</span></div>
</body></html>
